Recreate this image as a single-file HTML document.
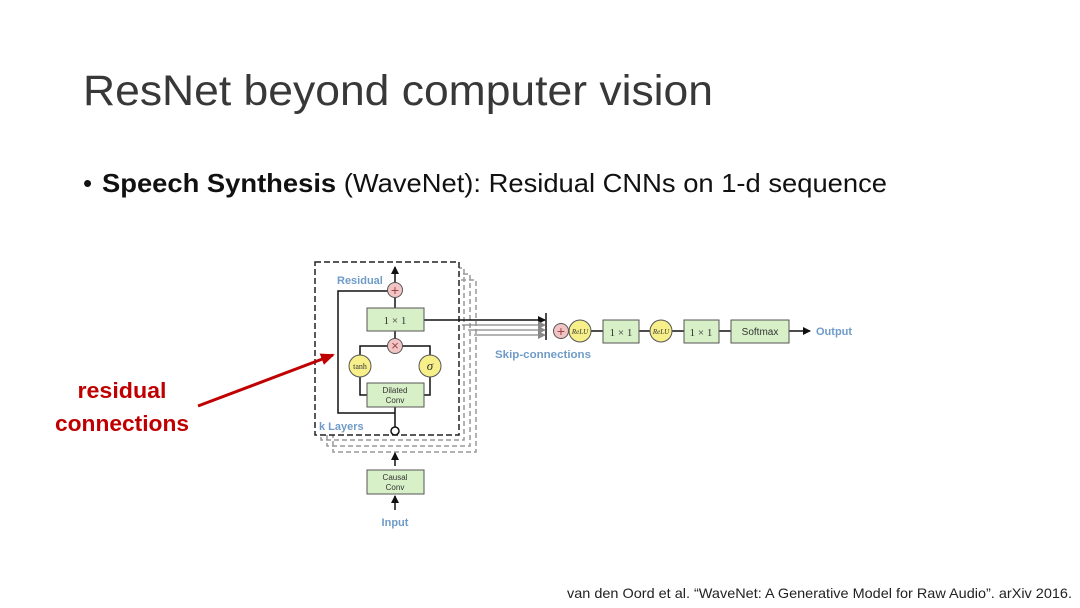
<!DOCTYPE html>
<html><head><meta charset="utf-8"><style>
html,body{margin:0;padding:0;background:#fff;}
svg{display:block;}
</style></head><body>
<svg width="1080" height="608" viewBox="0 0 1080 608" xmlns="http://www.w3.org/2000/svg" font-family="Liberation Sans, sans-serif">
<defs>
<marker id="ah" markerWidth="8" markerHeight="8" refX="7" refY="4" orient="auto" markerUnits="userSpaceOnUse"><path d="M0,0 L8,4 L0,8 z" fill="#111"/></marker>
<marker id="ag" markerWidth="8" markerHeight="8" refX="7" refY="4" orient="auto" markerUnits="userSpaceOnUse"><path d="M0,0 L8,4 L0,8 z" fill="#888"/></marker>
<marker id="ar" markerWidth="14" markerHeight="12" refX="12" refY="6" orient="auto" markerUnits="userSpaceOnUse"><path d="M0,0 L14,6 L0,12 z" fill="#c00000"/></marker>
</defs>
<text x="83" y="105" font-size="43" fill="#383838" textLength="630" lengthAdjust="spacingAndGlyphs">ResNet beyond computer vision</text>
<text x="83" y="192" font-size="26" fill="#111">•</text>
<text x="102" y="192" font-size="26" fill="#111" textLength="785" lengthAdjust="spacingAndGlyphs"><tspan font-weight="bold">Speech Synthesis</tspan> (WaveNet): Residual CNNs on 1-d sequence</text>
<text x="122" y="398" font-size="22" font-weight="bold" fill="#c00000" text-anchor="middle" textLength="89" lengthAdjust="spacingAndGlyphs">residual</text>
<text x="122" y="431" font-size="22" font-weight="bold" fill="#c00000" text-anchor="middle" textLength="134" lengthAdjust="spacingAndGlyphs">connections</text>
<g fill="none" stroke="#999" stroke-width="1.5" stroke-dasharray="5,3">
<rect x="333" y="280" width="143" height="172"/>
<rect x="327" y="274" width="143" height="172"/>
<rect x="321" y="268" width="143" height="172"/>
</g>
<rect x="315" y="262" width="144" height="173" fill="#fff" stroke="#222" stroke-width="1.5" stroke-dasharray="6,3"/>
<text x="337" y="284" font-size="11" font-weight="bold" fill="#6f9bc8">Residual</text>
<text x="319" y="430" font-size="11" font-weight="bold" fill="#6f9bc8">k Layers</text>
<g stroke="#111" stroke-width="1.5" fill="none">
<line x1="395" y1="283" x2="395" y2="267" marker-end="url(#ah)"/>
<polyline points="388,291 338,291 338,413 395,413"/>
<line x1="395" y1="297" x2="395" y2="308"/>
<line x1="395" y1="331" x2="395" y2="339"/>
<polyline points="388,346 360,346 360,355"/>
<polyline points="402,346 430,346 430,355"/>
<polyline points="360,377 360,395 367,395"/>
<polyline points="430,377 430,395 424,395"/>
<line x1="395" y1="407" x2="395" y2="427"/>
<line x1="424" y1="320" x2="545" y2="320" marker-end="url(#ah)"/>
<line x1="546" y1="313" x2="546" y2="340"/>
<line x1="395" y1="466" x2="395" y2="453" marker-end="url(#ah)"/>
<line x1="395" y1="510" x2="395" y2="496" marker-end="url(#ah)"/>
<line x1="591" y1="331" x2="603" y2="331"/>
<line x1="639" y1="331" x2="650" y2="331"/>
<line x1="672" y1="331" x2="684" y2="331"/>
<line x1="719" y1="331" x2="731" y2="331"/>
<line x1="789" y1="331" x2="810" y2="331" marker-end="url(#ah)"/>
</g>
<g stroke="#888" stroke-width="1.2">
<line x1="462" y1="325" x2="545" y2="325" marker-end="url(#ag)"/>
<line x1="468" y1="330" x2="545" y2="330" marker-end="url(#ag)"/>
<line x1="474" y1="335" x2="545" y2="335" marker-end="url(#ag)"/>
</g>
<circle cx="395" cy="431" r="4" fill="#fff" stroke="#111" stroke-width="1.5"/>
<g stroke="#555" stroke-width="1">
<rect x="367" y="308" width="57" height="23" fill="#d8f0c8"/>
<rect x="367" y="383" width="57" height="24" fill="#d8f0c8"/>
<rect x="367" y="470" width="57" height="24" fill="#d8f0c8"/>
<rect x="603" y="320" width="36" height="23" fill="#d8f0c8"/>
<rect x="684" y="320" width="35" height="23" fill="#d8f0c8"/>
<rect x="731" y="320" width="58" height="23" fill="#d8f0c8"/>
<circle cx="395" cy="290" r="7.5" fill="#f3c4c4"/>
<circle cx="395" cy="346" r="7.5" fill="#f3c4c4"/>
<circle cx="561" cy="331" r="7.5" fill="#f3c4c4"/>
<circle cx="360" cy="366" r="11" fill="#f7ef8a"/>
<circle cx="430" cy="366" r="11" fill="#f7ef8a"/>
<circle cx="580" cy="331" r="11" fill="#f7ef8a"/>
<circle cx="661" cy="331" r="11" fill="#f7ef8a"/>
</g>
<g font-size="10" fill="#333" text-anchor="middle">
<text x="395" y="295" font-size="14" fill="#944">+</text>
<text x="395" y="350" font-size="13" fill="#944">×</text>
<text x="561" y="336" font-size="14" fill="#944">+</text>
<text x="395" y="324" font-family="Liberation Serif, serif" font-size="11">1 × 1</text>
<text x="621" y="336" font-family="Liberation Serif, serif" font-size="11">1 × 1</text>
<text x="701" y="336" font-family="Liberation Serif, serif" font-size="11">1 × 1</text>
<text x="360" y="369" font-family="Liberation Serif, serif" font-size="8">tanh</text>
<text x="430" y="370" font-family="Liberation Serif, serif" font-style="italic" font-size="13">σ</text>
<text x="580" y="334" font-family="Liberation Serif, serif" font-style="italic" font-size="7">ReLU</text>
<text x="661" y="334" font-family="Liberation Serif, serif" font-style="italic" font-size="7">ReLU</text>
<text x="395" y="393" font-size="8">Dilated</text>
<text x="395" y="403" font-size="8">Conv</text>
<text x="395" y="480" font-size="8">Causal</text>
<text x="395" y="490" font-size="8">Conv</text>
<text x="760" y="335" font-size="10">Softmax</text>
</g>
<text x="816" y="335" font-size="11" font-weight="bold" fill="#6f9bc8">Output</text>
<text x="495" y="358" font-size="11" font-weight="bold" fill="#6f9bc8" textLength="96" lengthAdjust="spacingAndGlyphs">Skip-connections</text>
<text x="395" y="526" font-size="11" font-weight="bold" fill="#6f9bc8" text-anchor="middle">Input</text>
<line x1="198" y1="406" x2="333" y2="355" stroke="#c00000" stroke-width="3" marker-end="url(#ar)"/>
<text x="1072" y="598" font-size="14" fill="#222" text-anchor="end" textLength="505" lengthAdjust="spacingAndGlyphs">van den Oord et al. “WaveNet: A Generative Model for Raw Audio”. arXiv 2016.</text>
</svg>
</body></html>
